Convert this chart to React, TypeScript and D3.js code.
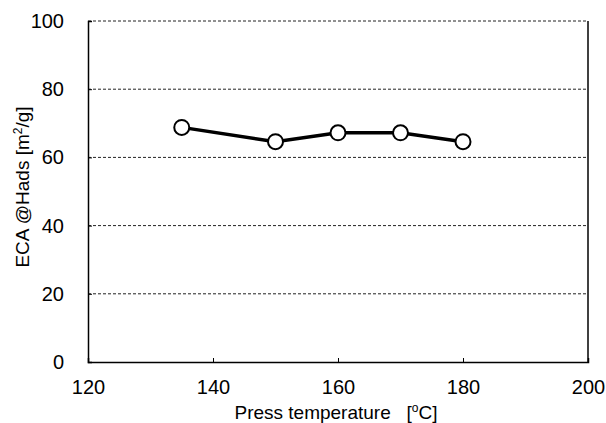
import { useEffect, useRef } from "react";
import * as d3 from "d3";

const temperatures = [135, 150, 160, 170, 180];
const ecaValues = [68.8, 64.6, 67.2, 67.2, 64.6];
const xTicks = [120, 140, 160, 180, 200];
const yTicks = [0, 20, 40, 60, 80, 100];

export default function App() {
  const ref = useRef<SVGSVGElement>(null);

  useEffect(() => {
    const width = 606,
      height = 423;
    const margin = { top: 21, right: 18, bottom: 61, left: 88 };
    const svg = d3.select(ref.current);
    svg.selectAll("*").remove();
    const font = "'Liberation Sans', Arial, sans-serif";

    const x = d3
      .scaleLinear()
      .domain([120, 200])
      .range([margin.left, width - margin.right]);
    const y = d3
      .scaleLinear()
      .domain([0, 100])
      .range([height - margin.bottom, margin.top]);

    // grid (dashed, also the top border)
    svg
      .append("g")
      .selectAll("line")
      .data(yTicks.filter((t) => t > 0))
      .join("line")
      .attr("x1", x(120))
      .attr("x2", x(200))
      .attr("y1", (d) => y(d))
      .attr("y2", (d) => y(d))
      .attr("stroke", "#222")
      .attr("stroke-width", 1)
      .attr("stroke-dasharray", "3,2");

    // frame right
    svg
      .append("line")
      .attr("x1", x(200))
      .attr("x2", x(200))
      .attr("y1", y(0))
      .attr("y2", y(100))
      .attr("stroke", "#000")
      .attr("stroke-width", 1.5);

    // Y axis
    const yAxis = svg
      .append("g")
      .attr("transform", `translate(${x(120)},0)`)
      .call(d3.axisLeft(y).tickValues(yTicks).tickSize(-4).tickPadding(24));
    yAxis.select(".domain").attr("stroke-width", 1.5);
    yAxis
      .selectAll("text")
      .style("font-family", font)
      .style("font-size", "20px")
      .attr("fill", "#000");

    // X axis
    const xAxis = svg
      .append("g")
      .attr("transform", `translate(0,${y(0)})`)
      .call(d3.axisBottom(x).tickValues(xTicks).tickSize(-4).tickPadding(18));
    xAxis.select(".domain").attr("stroke-width", 1.5);
    xAxis
      .selectAll("text")
      .style("font-family", font)
      .style("font-size", "20px")
      .attr("fill", "#000");

    // line
    const pts = temperatures.map((t, i) => [t, ecaValues[i]] as [number, number]);
    svg
      .append("path")
      .datum(pts)
      .attr("fill", "none")
      .attr("stroke", "#000")
      .attr("stroke-width", 3.5)
      .attr(
        "d",
        d3
          .line<[number, number]>()
          .x((d) => x(d[0]))
          .y((d) => y(d[1]))
      );

    svg
      .append("g")
      .selectAll("circle")
      .data(pts)
      .join("circle")
      .attr("cx", (d) => x(d[0]))
      .attr("cy", (d) => y(d[1]))
      .attr("r", 7.5)
      .attr("fill", "#fff")
      .attr("stroke", "#000")
      .attr("stroke-width", 2);

    // titles
    const yt = svg
      .append("text")
      .attr("transform", `translate(29,187) rotate(-90)`)
      .attr("text-anchor", "middle")
      .style("font-family", font)
      .style("font-size", "19px");
    yt.append("tspan").text("ECA @Hads [m");
    yt.append("tspan").attr("dy", -7).style("font-size", "12px").text("2");
    yt.append("tspan").attr("dy", 7).text("/g]");

    const xt = svg
      .append("text")
      .attr("x", 336)
      .attr("y", 419)
      .attr("text-anchor", "middle")
      .style("font-family", font)
      .style("font-size", "19px")
      .style("white-space", "pre");
    xt.append("tspan").text("Press temperature   [");
    xt.append("tspan").attr("dy", -7).style("font-size", "12px").text("o");
    xt.append("tspan").attr("dy", 7).text("C]");
  }, []);

  return (
    <svg
      ref={ref}
      width={606}
      height={423}
      style={{ position: "absolute", left: 0, top: 0, background: "#fff" }}
    />
  );
}
